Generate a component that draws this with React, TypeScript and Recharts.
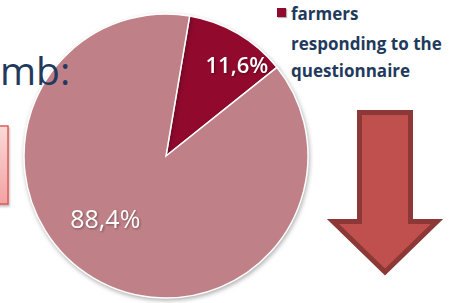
import { PieChart, Pie, Cell, Legend } from "recharts";

const categories = [
  "farmers responding to the questionnaire",
  "farmers not responding",
];
const shares = [11.6, 88.4];
const shareLabels = ["11,6%", "88,4%"];

const sliceColors = ["#910A2E", "#C08087"];
// label placement relative to the slice: radius fraction and angle nudge (deg)
const labelRadius = [0.82, 0.61];
const labelAngleShift = [-7, -14];

const data = categories.map((name, i) => ({ name, value: shares[i], label: shareLabels[i] }));

const RAD = Math.PI / 180;

const renderLabel = (props: any) => {
  const { cx, cy, midAngle, outerRadius, index } = props;
  const a = (midAngle + labelAngleShift[index]) * RAD;
  const r = outerRadius * labelRadius[index];
  const x = cx + r * Math.cos(a);
  const y = cy - r * Math.sin(a);
  return (
    <text
      x={x}
      y={y}
      fill="#fff"
      fontSize={index === 0 ? 22 : 25}
      fontWeight={index === 0 ? 600 : 400}
      fontFamily="'Open Sans', sans-serif"
      textAnchor="middle"
      dominantBaseline="central"
      style={{ filter: "drop-shadow(1px 1px 1px rgba(0,0,0,0.35))" }}
    >
      {data[index].label}
    </text>
  );
};

const renderLegend = (props: any) => {
  const item = (props.payload || []).find((p: any) => p.value === categories[0]);
  if (!item) return null;
  const words = String(item.value).split(" ");
  return (
    <div style={{ display: "flex", alignItems: "flex-start", fontFamily: "'Open Sans', sans-serif" }}>
      <div
        style={{
          width: 9,
          height: 9,
          background: sliceColors[0],
          marginTop: 9,
          marginRight: 5,
          boxShadow: "1px 1px 1px rgba(0,0,0,0.3)",
        }}
      />
      <div style={{ color: "#1F3A5C", fontWeight: 700, fontSize: 17, lineHeight: "30px", whiteSpace: "nowrap" }}>
        <div>{words[0]}</div>
        <div>{words.slice(1, 4).join(" ")}</div>
        <div style={{ marginTop: -3 }}>{words.slice(4).join(" ")}</div>
      </div>
    </div>
  );
};

export default function App() {
  return (
    <div style={{ position: "absolute", left: 0, top: 0, width: 471, height: 303, background: "#fff", overflow: "hidden" }}>
      <svg width={471} height={303} style={{ position: "absolute", left: 0, top: 0 }}>
        <defs>
          <linearGradient id="boxFill" x1="0" y1="0" x2="0" y2="1">
            <stop offset="0%" stopColor="#FBD9D9" />
            <stop offset="100%" stopColor="#F3A2A2" />
          </linearGradient>
        </defs>
        <rect x={-20} y={126} width={28} height={78} fill="url(#boxFill)" stroke="#E05A5A" strokeWidth={1.5}
          style={{ filter: "drop-shadow(1px 2px 1px rgba(0,0,0,0.25))" }} />
        <polygon
          points="359.5,112.5 410.5,112.5 410.5,221.5 437,221.5 385,272 333,221.5 359.5,221.5"
          fill="#C0504D"
          stroke="#8C3836"
          strokeWidth={5}
          strokeLinejoin="miter"
        />
      </svg>
      <div style={{ position: "absolute", left: 0, top: 0 }}>
        <PieChart width={471} height={303} margin={{ top: 0, right: 0, bottom: 0, left: 0 }}>
          <Pie
            data={data}
            dataKey="value"
            nameKey="name"
            cx={166}
            cy={156}
            outerRadius={142}
            startAngle={80.4}
            endAngle={80.4 - 360}
            stroke="#fff"
            strokeWidth={1.5}
            label={renderLabel}
            labelLine={false}
            isAnimationActive={false}
            style={{ filter: "drop-shadow(1px 2px 2px rgba(0,0,0,0.3))" }}
          >
            {data.map((d, i) => (
              <Cell key={d.name} fill={sliceColors[i]} />
            ))}
          </Pie>
          <Legend
            layout="vertical"
            align="right"
            verticalAlign="top"
            content={renderLegend}
            wrapperStyle={{ left: 277, top: -1, width: 194 }}
          />
        </PieChart>
      </div>
      <svg width={471} height={303} style={{ position: "absolute", left: 0, top: 0, pointerEvents: "none" }}>
        <text x={0} y={85} fontSize={39} fontFamily="'Open Sans', sans-serif" fill="#1F3A5C">
          mb:
        </text>
      </svg>
    </div>
  );
}
